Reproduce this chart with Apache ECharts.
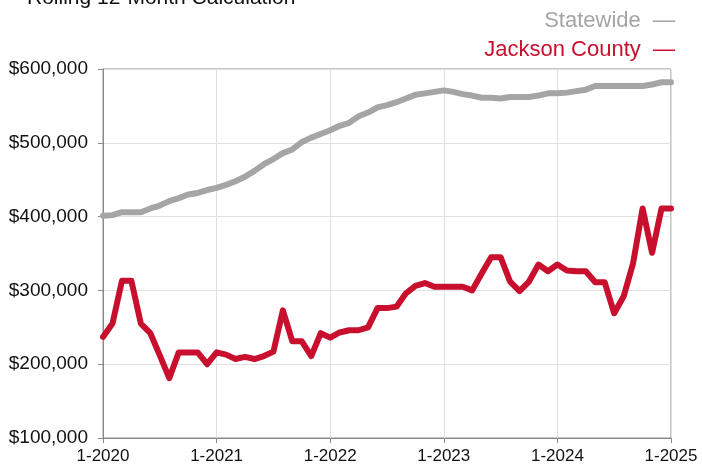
<!DOCTYPE html>
<html>
<head>
<meta charset="utf-8">
<script src="https://cdn.jsdelivr.net/npm/echarts@6/dist/echarts.min.js"></script>
<style>
html,body{margin:0;padding:0;background:#fff;}
#chart{width:702px;height:468px;}
</style>
</head>
<body>
<div id="chart"></div>
<script>
const title = 'Rolling 12-Month Calculation';
const seriesNames = ['Statewide', 'Jackson County'];
const yTicks = [100000, 200000, 300000, 400000, 500000, 600000];
// months 1-2020 .. 1-2025
const months = [];
for (let y = 2020; y <= 2025; y++) {
  for (let m = 1; m <= 12; m++) {
    if (y === 2025 && m > 1) break;
    months.push(m + '-' + y);
  }
}
const statewide = [
  401000, 402000, 406000, 406000, 406000, 411000, 415000, 421000, 425000, 430000,
  432000, 436000, 439000, 443000, 448000, 454000, 462000, 471000, 478000, 486000,
  491000, 501000, 507000, 512000, 517000, 523000, 527000, 536000, 541000, 548000,
  551000, 555000, 560000, 565000, 567000, 569000, 571000, 569000, 566000, 564000,
  561000, 561000, 560000, 562000, 562000, 562000, 564000, 567000, 567000, 568000,
  570000, 572000, 577000, 577000, 577000, 577000, 577000, 577000, 579000, 582000,
  582000
];
const jackson = [
  237000, 255000, 313000, 313000, 255000, 242000, 212000, 181000, 216000, 216000,
  216000, 200000, 216000, 213000, 207000, 210000, 207000, 211000, 217000, 273000,
  231000, 231000, 211000, 242000, 236000, 243000, 246000, 246000, 250000, 276000,
  276000, 278000, 296000, 306000, 310000, 305000, 305000, 305000, 305000, 300000,
  323000, 345000, 345000, 312000, 299000, 312000, 335000, 326000, 335000, 327000,
  326000, 326000, 311000, 311000, 269000, 292000, 337000, 411000, 351000, 411000,
  411000
];

const chart = echarts.init(document.getElementById('chart'));
const font = '"Liberation Sans", Arial, Helvetica, sans-serif';
const GRAY = '#a5a5a5';
const RED = '#c8102e';
function legendFor(idx, color, top) {
  return {
    orient: 'vertical', right: 22, top: top,
    icon: 'none', itemWidth: 0, itemHeight: 0,
    formatter: n => n + '  \u2014',
    textStyle: { fontSize: 22, fontFamily: font, color: color },
    data: [{ name: seriesNames[idx], textStyle: { color: color } }]
  };
}
chart.setOption({
  animation: false,
  textStyle: { fontFamily: font },
  graphic: [{
    type: 'text', left: 27, top: -12,
    style: { text: title, fontSize: 21, fontFamily: font, fill: '#111' }
  }],
  legend: [legendFor(0, GRAY, 5), legendFor(1, RED, 34)],
  grid: {
    left: 103, right: 31, top: 69, bottom: 30,
    show: true, borderColor: '#8a8a8a', borderWidth: 1
  },
  xAxis: {
    type: 'category', data: months, boundaryGap: false,
    axisLine: { lineStyle: { color: '#8a8a8a', width: 1 } },
    axisTick: { show: true, length: 5, interval: i => i % 12 === 0, lineStyle: { color: '#8a8a8a' } },
    axisLabel: { interval: i => i % 12 === 0, color: '#111', fontSize: 17, margin: 10, fontFamily: font, showMaxLabel: true },
    splitLine: { show: true, interval: i => i % 12 === 0, lineStyle: { color: '#e0e0e0', width: 1 } }
  },
  yAxis: {
    type: 'value', min: yTicks[0], max: yTicks[yTicks.length - 1], interval: 100000,
    axisLine: { show: true, lineStyle: { color: '#8a8a8a', width: 1 } },
    axisTick: { show: true, length: 5, lineStyle: { color: '#8a8a8a' } },
    axisLabel: {
      color: '#111', fontSize: 19, margin: 15, fontFamily: font,
      formatter: v => '$' + v.toLocaleString('en-US')
    },
    splitLine: { lineStyle: { color: '#e0e0e0', width: 1 } }
  },
  series: [
    { name: seriesNames[0], type: 'line', data: statewide, showSymbol: false,
      lineStyle: { color: GRAY, width: 6, join: 'round', cap: 'round' }, itemStyle: { color: GRAY } },
    { name: seriesNames[1], type: 'line', data: jackson, showSymbol: false,
      lineStyle: { color: RED, width: 6, join: 'round', cap: 'round' }, itemStyle: { color: RED } }
  ]
});
</script>
</body>
</html>
